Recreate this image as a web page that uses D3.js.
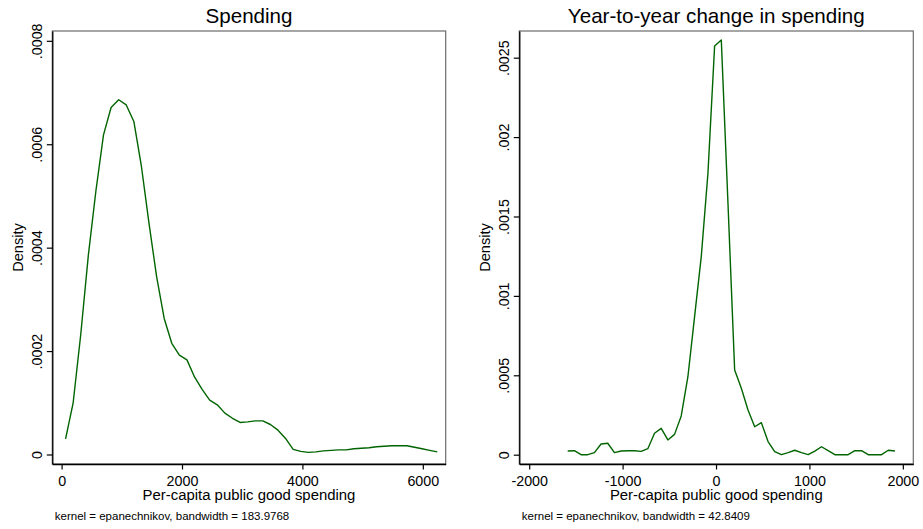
<!DOCTYPE html>
<html>
<head>
<meta charset="utf-8">
<script src="https://cdn.jsdelivr.net/npm/d3@7"></script>
<style>
  body { margin: 0; background: #fff; }
  svg { display: block; font-family: "Liberation Sans", Arial, Helvetica, sans-serif; }
</style>
</head>
<body>
<svg width="923" height="529"></svg>
<script>
// kernel density estimates, 50 evaluation points each
let levelX = [66, 192, 318, 444, 570, 696, 822, 948, 1074, 1200,
  1326, 1452, 1578, 1704, 1830, 1956, 2082, 2208, 2334, 2460,
  2586, 2712, 2838, 2964, 3090, 3216, 3342, 3468, 3594, 3720,
  3846, 3972, 4098, 4224, 4350, 4476, 4602, 4728, 4854, 4980,
  5106, 5232, 5358, 5484, 5610, 5736, 5862, 5988, 6114, 6240];
let levelDensity = [0.000030, 0.000100, 0.000232, 0.000385, 0.000510, 0.000618, 0.000671, 0.000686, 0.000676, 0.000644,
  0.000557, 0.000447, 0.000344, 0.000263, 0.000215, 0.000192, 0.000183, 0.000150, 0.000126, 0.000105,
  0.000096, 0.000080, 0.000070, 0.000062, 0.000063, 0.000065, 0.000065, 0.000058, 0.000047, 0.000031,
  0.000010, 0.000006, 0.000004, 0.000005, 0.000007, 0.000008, 0.000009, 0.000009, 0.000011, 0.000012,
  0.000013, 0.000015, 0.000016, 0.000017, 0.000017, 0.000017, 0.000014, 0.000011, 0.000008, 0.000005];

let changeX = [-1588, -1516.5, -1445, -1373.5, -1302, -1230.5, -1159, -1087.5, -1016, -944.5,
  -873, -801.5, -730, -658.5, -587, -515.5, -444, -372.5, -301, -229.5,
  -158, -86.5, -15, 56.5, 128, 199.5, 271, 342.5, 414, 485.5,
  557, 628.5, 700, 771.5, 843, 914.5, 986, 1057.5, 1129, 1200.5,
  1272, 1343.5, 1415, 1486.5, 1558, 1629.5, 1701, 1772.5, 1844, 1915.5];
let changeDensity = [0.000023, 0.000025, 0, 0, 0.000013, 0.000067, 0.000072, 0.000013, 0.000023, 0.000025,
  0.000025, 0.000021, 0.000038, 0.000135, 0.000166, 0.000093, 0.000128, 0.000244, 0.000491, 0.000869,
  0.001247, 0.001772, 0.002574, 0.002611, 0.001583, 0.000533, 0.000418, 0.000281, 0.000176, 0.000202,
  0.000083, 0.000019, 0, 0.000013, 0.000028, 0.000013, 0, 0.000023, 0.000050, 0.000025,
  0, 0, 0, 0.000025, 0.000025, 0, 0, 0, 0.000028, 0.000023];

let levelXTicks = [0, 2000, 4000, 6000];
let levelYTicks = [0, 0.0002, 0.0004, 0.0006, 0.0008];
let levelYLabels = ["0", ".0002", ".0004", ".0006", ".0008"];

let changeXTicks = [-2000, -1000, 0, 1000, 2000];
let changeYTicks = [0, 0.0005, 0.001, 0.0015, 0.002, 0.0025];
let changeYLabels = ["0", ".0005", ".001", ".0015", ".002", ".0025"];

let titles = ["Spending", "Year-to-year change in spending"];
let xTitle = "Per-capita public good spending";
let yTitle = "Density";
let notes = ["kernel = epanechnikov, bandwidth = 183.9768",
             "kernel = epanechnikov, bandwidth = 42.8409"];

let svg = d3.select("svg");
let lineColor = "#006400";
let plotTop = 31, plotBottom = 464;
let tickLen = 5.5;

let drawPanel = (opt) => {
  let g = svg.append("g");
  let left = opt.left, right = opt.right;

  let xScale = d3.scaleLinear().domain(opt.xDomain).range([left, right]);
  let yScale = d3.scaleLinear().domain(opt.yDomain).range([plotBottom, plotTop]);

  // plot region outline
  g.append("rect")
   .attr("x", left).attr("y", plotTop)
   .attr("width", right - left).attr("height", plotBottom - plotTop)
   .attr("fill", "none")
   .attr("stroke", "#6b6b6b")
   .attr("stroke-width", 1.2);

  // density curve
  let pts = opt.xs.map((x, i) => [x, opt.ys[i]]);
  g.append("path")
   .datum(pts)
   .attr("fill", "none")
   .attr("stroke", lineColor)
   .attr("stroke-width", 1.4)
   .attr("stroke-linejoin", "round")
   .attr("d", d3.line().x(d => xScale(d[0])).y(d => yScale(d[1])));

  // y axis, rotated labels
  let yAxis = d3.axisLeft(yScale)
                .tickValues(opt.yTicks)
                .tickFormat((d, i) => opt.yLabels[i])
                .tickSize(tickLen)
                .tickSizeOuter(0);
  let ya = g.append("g")
            .attr("transform", "translate(" + left + ",0)")
            .call(yAxis);
  ya.selectAll("text")
    .attr("x", null).attr("dy", null)
    .attr("text-anchor", "middle")
    .attr("transform", "translate(" + (-tickLen - 4.8) + ",0) rotate(-90)")
    .style("font-size", "14.3px")
    .attr("fill", "#000")
    .attr("font-family", null);

  // x axis
  let xAxis = d3.axisBottom(xScale)
                .tickValues(opt.xTicks)
                .tickFormat(d => d < 0 ? "-" + Math.abs(d) : String(d))
                .tickSize(tickLen)
                .tickSizeOuter(0);
  let xa = g.append("g")
            .attr("transform", "translate(0," + plotBottom + ")")
            .call(xAxis);
  xa.selectAll("text")
    .attr("y", 21.5).attr("dy", null)
    .style("font-size", "14.3px")
    .attr("fill", "#000")
    .attr("font-family", null);

  [ya, xa].forEach(a => {
    a.select(".domain").attr("stroke", "#000").attr("stroke-width", 1.3);
    a.selectAll(".tick line").attr("stroke", "#000").attr("stroke-width", 1.2);
  });

  let cx = (left + right) / 2;
  g.append("text")
   .attr("x", cx).attr("y", 23)
   .attr("text-anchor", "middle")
   .style("font-size", "20.6px")
   .text(opt.title);

  g.append("text")
   .attr("x", cx).attr("y", 500)
   .attr("text-anchor", "middle")
   .style("font-size", "14.9px")
   .text(xTitle);

  g.append("text")
   .attr("transform", "translate(" + (left - 29.8) + "," + ((plotTop + plotBottom) / 2) + ") rotate(-90)")
   .attr("text-anchor", "middle")
   .style("font-size", "14.6px")
   .text(yTitle);

  g.append("text")
   .attr("x", left + 2.5).attr("y", 519.5)
   .style("font-size", "11.5px")
   .text(opt.note);
};

drawPanel({
  left: 52.3, right: 445.7,
  xDomain: [-154.5, 6380], yDomain: [-0.0000184, 0.000819],
  xs: levelX, ys: levelDensity,
  xTicks: levelXTicks, yTicks: levelYTicks, yLabels: levelYLabels,
  title: titles[0], note: notes[0]
});

drawPanel({
  left: 519.3, right: 913.3,
  xDomain: [-2106, 2112], yDomain: [-0.0000586, 0.002668],
  xs: changeX, ys: changeDensity,
  xTicks: changeXTicks, yTicks: changeYTicks, yLabels: changeYLabels,
  title: titles[1], note: notes[1]
});
</script>
</body>
</html>
